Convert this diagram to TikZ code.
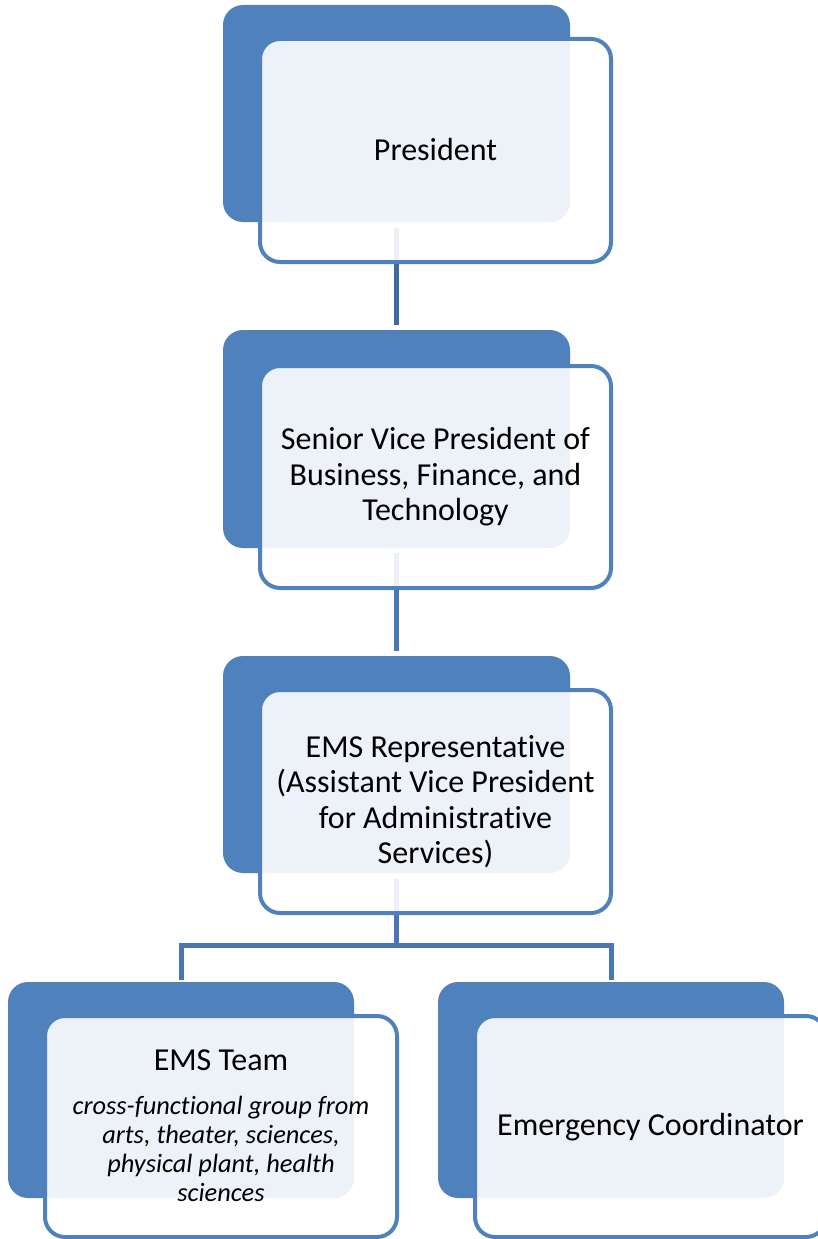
\documentclass[tikz,border=0pt]{standalone}
\usepackage{fontspec}
\setmainfont{Carlito}[Ligatures=NoCommon]
\definecolor{accent}{HTML}{4F81BD}
\definecolor{linkdark}{HTML}{3E6A9F}
\definecolor{linkmid}{HTML}{4A77B1}
\begin{document}
\begin{tikzpicture}[x=1pt,y=-1pt,
  backbox/.style={fill=accent, draw=none, rounded corners=20pt},
  frontbox/.style={draw=accent, line width=4pt, fill=white, fill opacity=0.9, rounded corners=20pt},
  label/.style={align=center, text=black, inner sep=0pt, font=\fontsize{32}{35.5}\selectfont},
  note/.style={align=center, text=black, inner sep=0pt, font=\fontsize{26.4}{29}\selectfont\itshape},
  link/.style={line width=5pt, draw=linkmid},
]
\useasboundingbox (0,0) rectangle (818,1239);

% back panels and the points where connectors meet them
\path[backbox] (223,5) rectangle (570,222);
\coordinate (b1s) at (396.5,228);
\coordinate (b2n) at (396.5,325);
\path[backbox] (223,330) rectangle (570,548);
\coordinate (b2s) at (396.5,553);
\coordinate (b3n) at (396.5,651);
\path[backbox] (223,656) rectangle (570,873);
\coordinate (b3s) at (396.5,879);
\coordinate (split) at (396.5,945.5);
\path[backbox] (8,982) rectangle (354,1198);
\coordinate (b4n) at (181.5,977);
\path[backbox] (438,982) rectangle (784,1198);
\coordinate (b5n) at (611,977);

% connectors
\draw[link, draw=linkdark] (b1s) -- (b2n);
\draw[link] (b2s) -- (b3n);
\draw[link] (b3s) -- (split);
\draw[link, line cap=rect] (b4n) |- (split) -| (b5n);
\draw[link] (b4n) -- ++(0,-5);

% front panels
\path[frontbox] (260,39) rectangle (611,262);
\path[frontbox] (260,366) rectangle (611,588);
\path[frontbox] (260,690) rectangle (611,913);
\path[frontbox] (45,1016) rectangle (397,1237);
\path[frontbox] (475,1016) rectangle (826,1237);

% texts
\node[label, anchor=base] (president) at (435.5,160) {President};
\node[label] (svp) at (435.5,477) {Senior Vice President of\\Business, Finance, and\\Technology};
\node[label] (rep) at (435.5,801.5) {EMS Representative\\(Assistant Vice President\\for Administrative\\Services)};
\node[label, anchor=base] (team) at (221,1070) {EMS Team};
\node[note] (teamnote) at (221,1149) {cross-functional group from\\arts, theater, sciences,\\physical plant, health\\sciences};
\node[label, anchor=base] (coord) at (650.5,1135) {Emergency Coordinator};
\end{tikzpicture}
\end{document}
